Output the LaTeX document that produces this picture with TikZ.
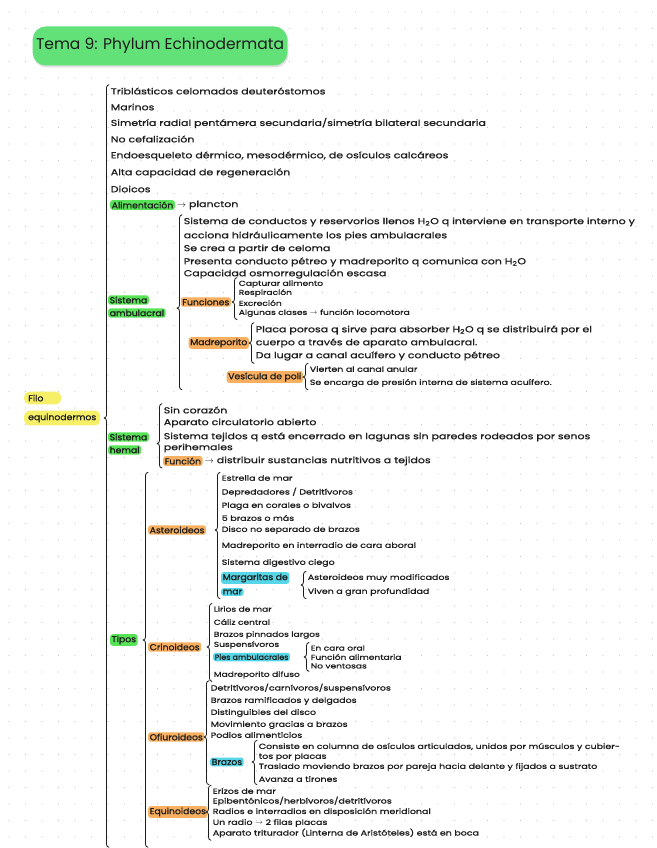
\documentclass[tikz,border=0pt]{standalone}
\usepackage{fontspec}
\setmainfont{Poppins}[FakeStretch=1.28, FakeBold=1.0]
\newfontfamily\lblfont{Poppins}[FakeStretch=1.08, FakeBold=1.0]
\newfontfamily\titlefont{Poppins}
\usetikzlibrary{calc, positioning, shadows}
\definecolor{ink}{RGB}{28,28,28}
\definecolor{titlegreen}{RGB}{98,225,120}
\definecolor{hlgreen}{RGB}{88,226,88}
\definecolor{hlorange}{RGB}{248,176,96}
\definecolor{hlcyan}{RGB}{86,214,230}
\definecolor{hlyellow}{RGB}{246,240,104}
\definecolor{dotc}{RGB}{200,200,200}
\newcommand{\fsA}{\fontsize{8.6}{9}\selectfont}
\newcommand{\fsB}{\fontsize{7.4}{8}\selectfont}
\newcommand{\fsC}{\fontsize{7.1}{7.5}\selectfont}
\tikzset{
  itm/.style={anchor=west, inner sep=0.6pt, text=ink, font=\fsA},
  itmB/.style={itm, font=\fsB},
  itmC/.style={itm, font=\fsC},
  hl/.style={itm, fill=#1, rounded corners=2.5pt, inner xsep=1.5pt, inner ysep=1.4pt, font=\lblfont\fsA},
  root/.style={hl=hlyellow, rounded corners=5pt, inner xsep=4pt, inner ysep=3pt},
  brc/.style={draw=ink, line width=0.8pt, line cap=round, line join=round},
  titlebox/.style={fill=titlegreen, rounded corners=13pt, minimum width=254pt, minimum height=39pt,
    text=ink, font=\titlefont\fontsize{15.5}{17}\selectfont,
    drop shadow={opacity=0.25, shadow xshift=1pt, shadow yshift=-2pt}}
}
% brace: tip point, top point, bottom point
\newcommand{\grp}[3]{%
  \draw[brc] let \p1=(#2), \p2=(#3), \p3=(#1) in
    (\x1-1pt,\y1+2pt) to[out=180,in=90] (\x1-3.5pt,\y1-1pt)
    -- (\x1-3.5pt,\y3+3pt) to[out=270,in=0] (\x1-6pt,\y3)
    to[out=0,in=90] (\x1-3.5pt,\y3-3pt)
    -- (\x1-3.5pt,\y2+1pt) to[out=270,in=180] (\x1-1pt,\y2-2pt);
}

\begin{document}
\begin{tikzpicture}[x=1pt, y=-1pt]
	\useasboundingbox (0,0) rectangle (656,848);
	\fill[white] (0,0) rectangle (656,848);
	\foreach \gx in {9,25.5,...,656} \foreach \gy in {12,28.5,...,848}
		\fill[dotc] (\gx,\gy) circle (0.6);

	\node[titlebox] (title) at (160,46) {Tema 9: Phylum Echinodermata};

	% root
	\node[root, text width=29pt, align=left] (filo1) at (24,398) {Filo};
	\node[root] (filo2) at (24,418) {equinodermos};

	% generalidades
	\node[itm] (g1) at (110,91) {Triblásticos celomados deuteróstomos};
	\node[itm] (g2) at (110,107) {Marinos};
	\node[itm] (g3) at (110,123) {Simetría radial pentámera secundaria/simetría bilateral secundaria};
	\node[itm] (g4) at (110,139) {No cefalización};
	\node[itm] (g5) at (110,156) {Endoesqueleto dérmico, mesodérmico, de osículos calcáreos};
	\node[itm] (g6) at (110,173) {Alta capacidad de regeneración};
	\node[itm] (g7) at (110,189) {Dioicos};
	\node[hl=hlgreen] (ali) at (110,205) {Alimentación};
	\node[itm, right=1pt of ali] (ali2) {$\rightarrow$ plancton};

	% sistema ambulacral
	\node[hl=hlgreen] (amb1) at (108,300) {Sistema};
	\node[hl=hlgreen] (amb2) at (108,313) {ambulacral};
	\coordinate (ambtip) at (amb2.north east);
	\node[itm] (a1) at (183,222) {Sistema de conductos y reservorios llenos H\textsubscript{2}O q interviene en transporte interno y};
	\node[itm] (a2) at (183,236) {acciona hidráulicamente los pies ambulacrales};
	\node[itm] (a3) at (183,249) {Se crea a partir de celoma};
	\node[itm] (a4) at (183,262) {Presenta conducto pétreo y madreporito q comunica con H\textsubscript{2}O};
	\node[itm] (a5) at (183,274) {Capacidad osmorregulación escasa};
	\node[hl=hlorange, anchor=east] (fun) at (231,302) {Funciones};
	\node[itmC] (f1) at (238,284) {Capturar alimento};
	\node[itmC] (f2) at (238,293) {Respiración};
	\node[itmC] (f3) at (238,303) {Excreción};
	\node[itmC] (f4) at (238,313) {Algunas clases $\rightarrow$ función locomotora};
	\node[hl=hlorange, anchor=east] (mad) at (249,343) {Madreporito};
	\node[itm] (m1) at (255,330) {Placa porosa q sirve para absorber H\textsubscript{2}O q se distribuirá por el};
	\node[itm] (m2) at (255,343) {cuerpo a través de aparato ambulacral.};
	\node[itm] (m3) at (255,356) {Da lugar a canal acuífero y conducto pétreo};
	\node[hl=hlorange, anchor=east] (ves) at (303,377) {Vesícula de poli};
	\node[itmB] (v1) at (309,369) {Vierten al canal anular};
	\node[itmB] (v2) at (309,383) {Se encarga de presión interna de sistema acuífero.};

	% sistema hemal
	\node[hl=hlgreen] (hem1) at (108,437) {Sistema};
	\node[hl=hlgreen] (hem2) at (108,450) {hemal};
	\coordinate (hemtip) at ($(hem1)!0.5!(hem2)$);
	\node[itm] (h1) at (163,410) {Sin corazón};
	\node[itm] (h2) at (163,423) {Aparato circulatorio abierto};
	\node[itm] (h3) at (163,437) {Sistema tejidos q está encerrado en lagunas sin paredes rodeados por senos};
	\node[itm] (h4) at (163,448) {perihemales};
	\node[hl=hlorange] (h5) at (163,461) {Función};
	\node[itm, right=1pt of h5] (h6) {$\rightarrow$ distribuir sustancias nutritivos a tejidos};

	% tipos
	\node[hl=hlgreen] (tip) at (110,640) {Tipos};

	\node[hl=hlorange] (ast) at (148,530) {Asteroideos};
	\node[itmB] (as1) at (221,478) {Estrella de mar};
	\node[itmB] (as2) at (221,492) {Depredadores / Detritívoros};
	\node[itmB] (as3) at (221,506) {Plaga en corales o bivalvos};
	\node[itmB] (as4) at (221,518) {5 brazos o más};
	\node[itmB] (as5) at (221,530) {Disco no separado de brazos};
	\node[itmB] (as6) at (221,546) {Madreporito en interradio de cara aboral};
	\node[itmB] (as7) at (221,563) {Sistema digestivo ciego};
	\node[hl=hlcyan] (mg1) at (221,578) {Margaritas de};
	\node[hl=hlcyan] (mg2) at (221,592) {mar};
	\coordinate (mgtip) at ($(mg1)!0.5!(mg2)$);
	\node[itmB] (mga) at (307,578) {Asteroideos muy modificados};
	\node[itmB] (mgb) at (307,592) {Viven a gran profundidad};

	\node[hl=hlorange] (cri) at (148,647) {Crinoideos};
	\node[itmC] (cr1) at (213,609) {Lirios de mar};
	\node[itmC] (cr2) at (213,622) {Cáliz central};
	\node[itmC] (cr3) at (213,635) {Brazos pinnados largos};
	\node[itmC] (cr4) at (213,645) {Suspensívoros};
	\node[hl=hlcyan, font=\lblfont\fsB] (pie) at (213,657) {Pies ambulacrales};
	\node[itmC] (pa1) at (310,648) {En cara oral};
	\node[itmC] (pa2) at (310,657) {Función alimentaria};
	\node[itmC] (pa3) at (310,666) {No ventosas};
	\node[itmC] (cr6) at (213,675) {Madreporito difuso};

	\node[hl=hlorange] (ofi) at (148,737) {Ofiuroideos};
	\node[itmB] (of1) at (210,688) {Detritívoros/carnívoros/suspensívoros};
	\node[itmB] (of2) at (210,701) {Brazos ramificados y delgados};
	\node[itmB] (of3) at (210,713) {Distinguibles del disco};
	\node[itmB] (of4) at (210,725) {Movimiento gracias a brazos};
	\node[itmB] (of5) at (210,735) {Podios alimenticios};
	\node[hl=hlcyan] (bra) at (210,762) {Brazos};
	\node[itmB] (br1) at (258,747) {Consiste en columna de osículos articulados, unidos por músculos y cubier-};
	\node[itmB] (br2) at (258,757) {tos por placas};
	\node[itmB] (br3) at (258,767) {Traslado moviendo brazos por pareja hacia delante y fijados a sustrato};
	\node[itmB] (br4) at (258,779) {Avanza a tirones};

	\node[hl=hlorange] (equ) at (148,812) {Equinoideos};
	\node[itmB] (eq1) at (212,791) {Erizos de mar};
	\node[itmB] (eq2) at (212,801) {Epibentónicos/herbívoros/detritívoros};
	\node[itmB] (eq3) at (212,812) {Radios e interradios en disposición meridional};
	\node[itmB] (eq4) at (212,823) {Un radio $\rightarrow$ 2 filas placas};
	\node[itmB] (eq5) at (212,833) {Aparato triturador (Linterna de Aristóteles) está en boca};
	\coordinate (tipostop) at ($(ast.west |- as1.north)+(1,0)$);

	% braces
	\grp{filo2.east}{g1.north west}{$(eq5.south)+(0,7)$}
	\grp{ambtip}{a1.north west}{v2.south}
	\grp{fun.east}{f1.north west}{f4.south}
	\grp{mad.east}{m1.north west}{m3.south}
	\grp{ves.east}{v1.north west}{v2.south}
	\grp{hemtip}{h1.north west}{h5.south}
	\grp{tip.east}{tipostop}{$(eq5.south)+(0,7)$}
	\grp{ast.east}{as1.north west}{mgb.south}
	\grp{mgtip}{mga.north west}{mgb.south}
	\grp{cri.east}{cr1.north west}{cr6.south}
	\grp{pie.east}{pa1.north west}{pa3.south}
	\grp{ofi.east}{of1.north west}{br4.south}
	\grp{bra.east}{br1.north west}{br4.south}
	\grp{equ.east}{eq1.north west}{eq5.south}
\end{tikzpicture}
\end{document}
